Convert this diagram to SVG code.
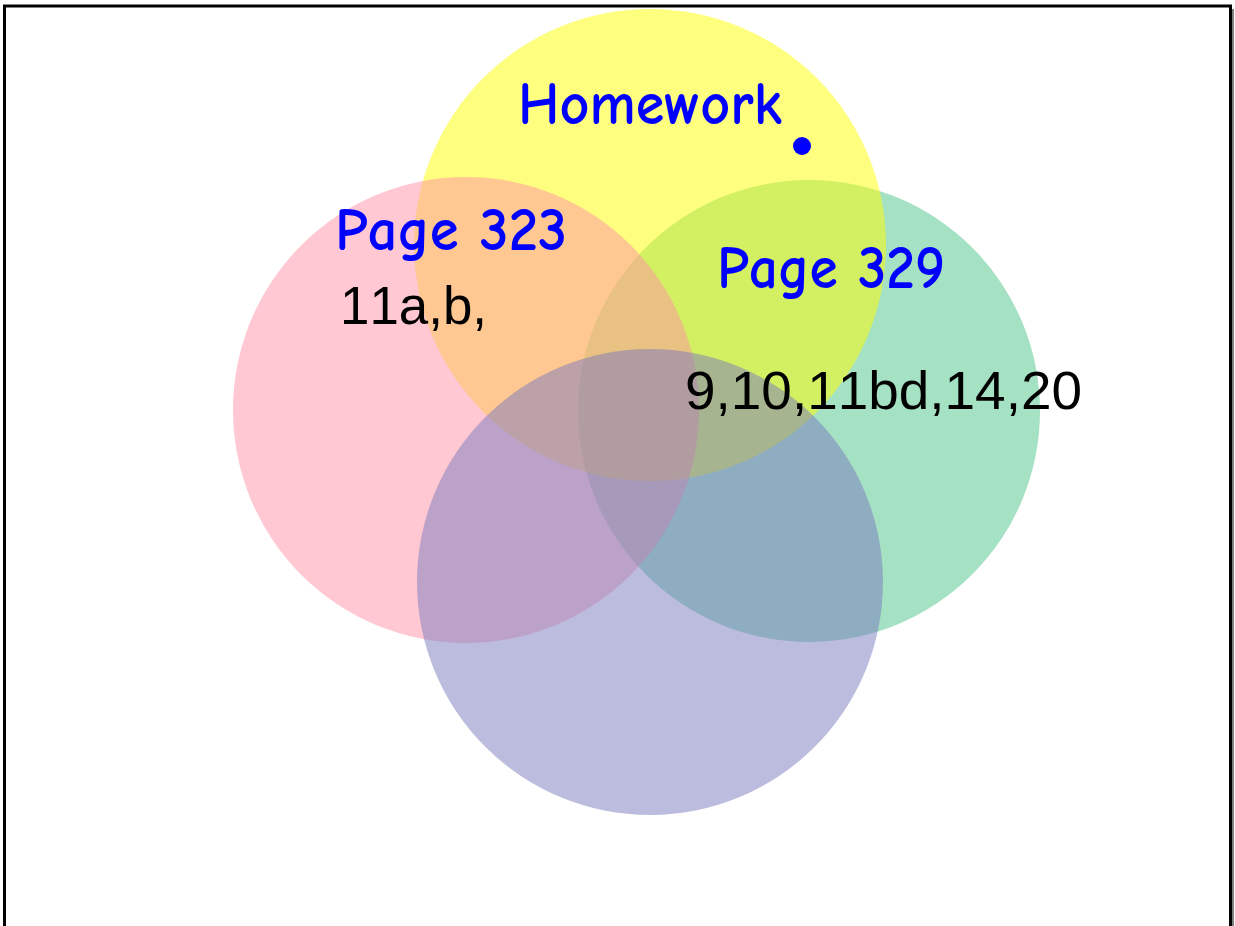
<svg xmlns="http://www.w3.org/2000/svg" width="1235" height="926" viewBox="0 0 1235 926">
<style>
.c{opacity:0.5}
.blue{font-family:"Comic Sans MS","Comic Neue","DejaVu Sans",sans-serif;fill:#0000ff;font-size:61px;font-weight:bold}
.blk{font-family:"Liberation Sans",Arial,sans-serif;fill:#000;font-size:53px;font-kerning:none}
</style>
<rect width="1235" height="926" fill="#fff"/>
<g id="frame">
<line x1="1232.5" y1="9" x2="1232.5" y2="926" stroke="#808080" stroke-width="3"/>
<rect x="4.5" y="6" width="1226" height="960" fill="none" stroke="#000" stroke-width="3"/>
</g>
<g id="green"><circle class="c" cx="809" cy="411" r="231" fill="#4bc387"/></g>
<g id="yellow"><circle class="c" cx="650" cy="245" r="236" fill="#ffff00"/></g>
<g id="pink"><circle class="c" cx="466" cy="410" r="233" fill="#ff91a5"/></g>
<g id="purple"><circle class="c" cx="650" cy="582" r="233" fill="#7979bd"/></g>
<g id="labels">
<text class="blue" x="518" y="124" textLength="264" lengthAdjust="spacingAndGlyphs">Homework</text>
<circle cx="802" cy="146" r="9" fill="#0000ff"/>
<text class="blue" x="335" y="250" textLength="232" lengthAdjust="spacingAndGlyphs">Page 323</text>
<text class="blue" x="717" y="288" textLength="228" lengthAdjust="spacingAndGlyphs">Page 329</text>
<text class="blk" x="340" y="324" textLength="147" lengthAdjust="spacingAndGlyphs">11a,b,</text>
<text class="blk" x="685" y="409" textLength="397" lengthAdjust="spacingAndGlyphs">9,10,11bd,14,20</text>
</g>
</svg>
